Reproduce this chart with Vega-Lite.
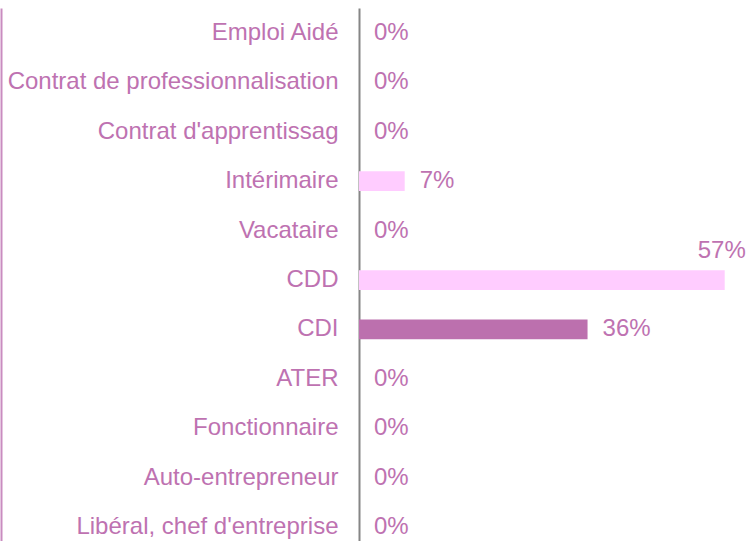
{
  "$schema": "https://vega.github.io/schema/vega-lite/v6.json",
  "autosize": {"type": "none"},
  "width": 384,
  "height": 533,
  "padding": {"left": 359, "top": 8, "right": 4, "bottom": 0},
  "background": "white",
  "config": {"view": {"stroke": null}, "font": "Liberation Sans"},
  "data": {
    "values": [
      {"type": "Emploi Aidé", "share": 0},
      {"type": "Contrat de professionnalisation", "share": 0},
      {"type": "Contrat d'apprentissag", "share": 0},
      {"type": "Intérimaire", "share": 0.0714},
      {"type": "Vacataire", "share": 0},
      {"type": "CDD", "share": 0.5714},
      {"type": "CDI", "share": 0.3571},
      {"type": "ATER", "share": 0},
      {"type": "Fonctionnaire", "share": 0},
      {"type": "Auto-entrepreneur", "share": 0},
      {"type": "Libéral, chef d'entreprise", "share": 0}
    ]
  },
  "layer": [
    {
      "mark": {"type": "bar"},
      "encoding": {
        "y": {
          "field": "type",
          "type": "nominal",
          "sort": null,
          "scale": {"paddingInner": 0.6, "paddingOuter": 0.195, "align": 0.786},
          "axis": {
            "orient": "left",
            "title": null,
            "ticks": false,
            "tickSize": 0,
            "labelPadding": 21,
            "labelFont": "Liberation Sans",
            "labelFontSize": 24,
            "labelColor": "#BE72B1",
            "labelLimit": 400,
            "domainColor": "#868686",
            "domainWidth": 2,
            "grid": false
          }
        },
        "x": {
          "field": "share",
          "type": "quantitative",
          "scale": {"domain": [0, 0.6]},
          "axis": null
        },
        "color": {
          "condition": {"test": "datum.type === 'CDI'", "value": "#BC70AE"},
          "value": "#FFCCFF"
        }
      }
    },
    {
      "transform": [{"filter": "datum.share < 0.5"}],
      "mark": {
        "type": "text",
        "align": "left",
        "baseline": "middle",
        "dx": 15,
        "font": "Liberation Sans",
        "fontSize": 24,
        "color": "#BE72B1"
      },
      "encoding": {
        "y": {"field": "type", "type": "nominal", "sort": null, "axis": null},
        "x": {"field": "share", "type": "quantitative"},
        "text": {"field": "share", "type": "quantitative", "format": ".0%"}
      }
    },
    {
      "transform": [{"filter": "datum.share >= 0.5"}],
      "mark": {
        "type": "text",
        "align": "center",
        "baseline": "middle",
        "dx": -3,
        "dy": -29,
        "font": "Liberation Sans",
        "fontSize": 24,
        "color": "#BE72B1"
      },
      "encoding": {
        "x": {"field": "share", "type": "quantitative"},
        "text": {"field": "share", "type": "quantitative", "format": ".0%"},
        "y": {
          "field": "type",
          "type": "nominal",
          "sort": null,
          "axis": {
            "orient": "left",
            "offset": 358,
            "title": null,
            "labels": false,
            "ticks": false,
            "grid": false,
            "domainColor": "#C98CC0",
            "domainWidth": 2
          }
        }
      }
    }
  ],
  "resolve": {"axis": {"y": "independent"}}
}
